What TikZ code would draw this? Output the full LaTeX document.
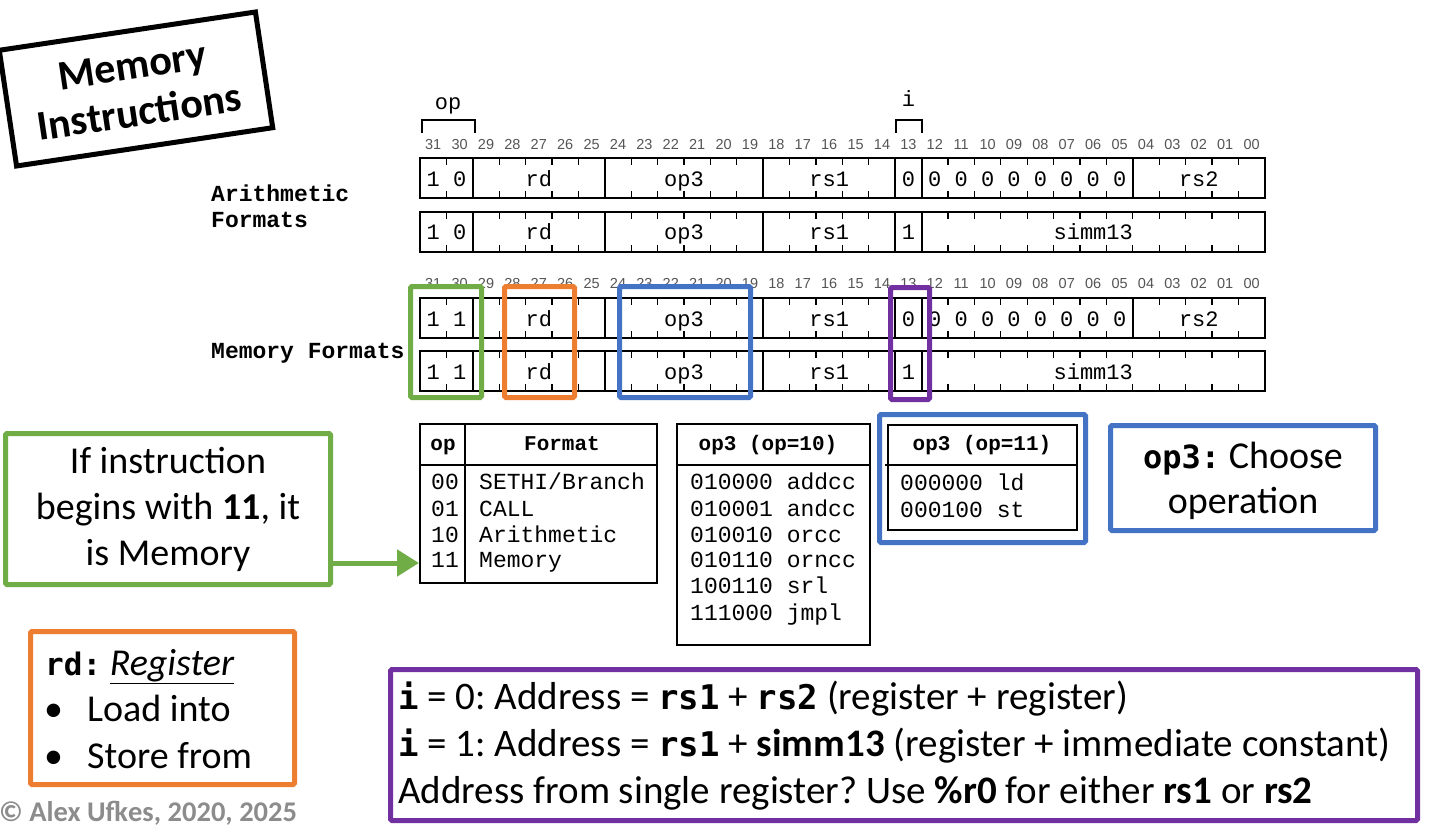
\documentclass[tikz,border=0pt]{standalone}
\usepackage{fontspec}
\setmainfont{Carlito}
\newfontfamily\cour{Liberation Mono}
\newfontfamily\cons{DejaVu Sans Mono}
\newfontfamily\helv{Liberation Sans}
\usetikzlibrary{arrows.meta}
\definecolor{cgreen}{HTML}{70AD47}
\definecolor{corange}{HTML}{ED7D31}
\definecolor{cblue}{HTML}{4472C4}
\definecolor{cpurple}{HTML}{7030A0}
\definecolor{numgray}{HTML}{555555}
\definecolor{copygray}{HTML}{8C8C8C}
\newcommand\fsz[2]{\fontsize{#1}{#2}\selectfont}
\newcommand\mbp[1]{{\cons\bfseries\fsz{34}{47}#1}}
\newcommand\mbo[1]{{\cons\bfseries\fsz{31}{46}#1}}
\frenchspacing
\tikzset{
  fieldtxt/.style={font=\cour\fsz{22}{26}, inner sep=0pt, anchor=base},
  bitnum/.style={font=\helv\fsz{14.5}{16}, text=numgray, inner sep=0pt, anchor=base},
  rowline/.style={line width=1.2pt},
  divline/.style={line width=2.2pt},
  tickline/.style={line width=1.3pt},
  lbl/.style={font=\cour\bfseries\fsz{23}{26}, inner sep=0pt, anchor=base west},
  thead/.style={font=\cour\bfseries\fsz{21}{24}, inner sep=0pt, anchor=base},
  tbody/.style={font=\cour\fsz{23}{26}, inner sep=0pt, anchor=base west},
  cbox/.style={draw=#1, line width=5pt, rounded corners=1.5pt},
  body/.style={font=\frenchspacing\fsz{38}{46}, inner sep=0pt, anchor=base west},
  pbody/.style={font=\frenchspacing\fsz{39}{47}, inner sep=0pt, anchor=base west},
}
\begin{document}
\begin{tikzpicture}[x=1pt,y=-1pt]
\useasboundingbox[fill=white] (0,0) rectangle (1452,832);

% ---------- title ----------
\node[draw, line width=5pt, rotate=8.5, minimum width=259pt, minimum height=117pt,
      align=center, font=\bfseries\fsz{42}{47}, inner sep=0pt] (title) at (136,89) {Memory\\Instructions};

% ---------- side labels ----------
\node[lbl] (arith1) at (211,201) {Arithmetic};
\node[lbl] (arith2) at (211,227) {Formats};
\node[lbl] (memfmt) at (211,358) {Memory Formats};

% ---------- op / i brackets ----------
\node[fieldtxt] (oplbl) at (448,110) {op};
\node[fieldtxt] (ilbl) at (908.5,107) {i};
\draw[line width=2.5pt] (422,133) -- (422,120) -- (475,120) -- (475,133);
\draw[line width=2.5pt] (896,133) -- (896,120) -- (922,120) -- (922,133);

% ---------- bit numbers ----------
\foreach \b in {0,...,31} {
  \node[bitnum] (na\b) at (420+31*26.4-\b*26.4+13.2,150) {\ifnum\b<10 0\fi\b};
  \node[bitnum] (nb\b) at (420+31*26.4-\b*26.4+13.2,288) {\ifnum\b<10 0\fi\b};
}

% ---------- rows ----------
\foreach \t in {158,212,298,351} {
  \draw[rowline] (420,\t) rectangle (1265,\t+40);
  \foreach \k in {1,...,31} {
    \draw[tickline] (420+\k*26.4,\t) -- ++(0,7);
    \draw[tickline] (420+\k*26.4,\t+40) -- ++(0,-7);
  }
  \foreach \k in {2,7,13,18,19} {
    \draw[divline] (420+\k*26.4,\t) -- ++(0,40);
  }
  \node[fieldtxt] (rd\t) at (538.8,\t+28) {rd};
  \node[fieldtxt] (opt\t) at (684,\t+28) {op3};
  \node[fieldtxt] (rsa\t) at (829.2,\t+28) {rs1};
  \node[fieldtxt] (ba\t) at (433.2,\t+28) {1};
}
\node[fieldtxt] (bb158) at (459.6,186) {0};
\node[fieldtxt] (bb212) at (459.6,240) {0};
\node[fieldtxt] (bb298) at (459.6,326) {1};
\node[fieldtxt] (bb351) at (459.6,379) {1};
\foreach \t in {158,298} {
  \draw[divline] (420+27*26.4,\t) -- ++(0,40);
  \node[fieldtxt] (iz\t) at (908.4,\t+28) {0};
  \foreach \k in {19,...,26} {
    \node[fieldtxt] (z\t-\k) at (420+\k*26.4+13.2,\t+28) {0};
  }
  \node[fieldtxt] (rsb\t) at (1198.8,\t+28) {rs2};
}
\foreach \t in {212,351} {
  \node[fieldtxt] (io\t) at (908.4,\t+28) {1};
  \node[fieldtxt] (sim\t) at (1093.2,\t+28) {simm13};
}

% ---------- table 1 ----------
\draw[rowline] (420,424) rectangle (657,583);
\draw[line width=2.5pt] (420,465) -- (657,465);
\draw[line width=2.5pt] (465,424) -- (465,583);
\node[thead] (h1a) at (443,450) {op};
\node[thead] (h1b) at (562,450) {Format};
\node[tbody] (t1a) at (431,489.5) {00};
\node[tbody] (t1b) at (431,516) {01};
\node[tbody] (t1c) at (431,542) {10};
\node[tbody] (t1d) at (431,567.5) {11};
\node[tbody] (t1e) at (479,489.5) {SETHI/Branch};
\node[tbody] (t1f) at (479,516) {CALL};
\node[tbody] (t1g) at (479,542) {Arithmetic};
\node[tbody] (t1h) at (479,567.5) {Memory};

% ---------- table 2 ----------
\draw[rowline] (677,424) rectangle (870,645);
\draw[line width=2.5pt] (677,465) -- (870,465);
\node[thead] (h2) at (768,450) {op3 (op=10)};
\node[tbody] (t2a) at (690,489.5) {010000 addcc};
\node[tbody] (t2b) at (690,516) {010001 andcc};
\node[tbody] (t2c) at (690,542) {010010 orcc};
\node[tbody] (t2d) at (690,567.5) {010110 orncc};
\node[tbody] (t2e) at (690,593.5) {100110 srl};
\node[tbody] (t2f) at (690,620) {111000 jmpl};

% ---------- table 3 ----------
\draw[rowline] (888,425) rectangle (1077,530);
\draw[line width=2.5pt] (885,465) -- (1077,465);
\node[thead] (h3) at (982,450) {op3 (op=11)};
\node[tbody] (t3a) at (900,490) {000000 ld};
\node[tbody] (t3b) at (900,517) {000100 st};

% ---------- highlight boxes ----------
\draw[cbox=cgreen] (410.5,286.5) rectangle (481.5,397.5);
\draw[cbox=corange] (504.5,286.5) rectangle (574.5,397.5);
\draw[cbox=cblue] (619.5,286.5) rectangle (750.5,397.5);
\draw[cbox=cpurple] (890.5,287.5) rectangle (929.5,399.5);
\draw[cbox=cblue] (879.5,414.5) rectangle (1085.5,542.5);

% ---------- green note + arrow ----------
\node[cbox=cgreen, minimum width=325pt, minimum height=151pt, inner sep=0pt,
      align=center, font=\fsz{38}{46}] (gbox) at (168,509)
      {If instruction\\begins with \textbf{11}, it\\is Memory};
\coordinate (atip) at (419,563);
\draw[line width=5pt, cgreen, -{Triangle[length=22pt,width=26pt]}] (gbox.east |- atip) -- (atip);

% ---------- blue note ----------
\node[cbox=cblue, minimum width=265pt, minimum height=105pt, inner sep=0pt] (bbox) at (1243,478) {};
\node[font=\fsz{38}{46}, inner sep=0pt, anchor=base] (bl1) at (1243,468) {{\cons\bfseries\fsz{32}{46}op3:} Choose};
\node[font=\fsz{38}{46}, inner sep=0pt, anchor=base] (bl2) at (1243,513) {operation};

% ---------- orange note ----------
\draw[cbox=corange] (30.5,631.5) rectangle (294.5,784.5);
\node[body] (o1) at (45,675) {\mbo{rd:} \textit{\underline{Register}}};
\node[body] (o2b) at (44,721) {•};
\node[body] (o2) at (87,721) {Load into};
\node[body] (o3b) at (44,768) {•};
\node[body] (o3) at (87,768) {Store from};

% ---------- copyright ----------
\node[anchor=base west, inner sep=0pt, font=\bfseries\fsz{28.5}{30}, text=copygray] (copy) at (-1,821) {© Alex Ufkes, 2020, 2025};

% ---------- purple note ----------
\draw[cbox=cpurple] (390.5,669.5) rectangle (1417.5,820.5);
\node[pbody] (p1) at (398,709) {\mbp{i} = 0: Address = \mbp{rs1} + \mbp{rs2} (register + register)};
\node[pbody] (p2) at (398,756) {\mbp{i} = 1: Address = \mbp{rs1} + \textbf{simm13} (register + immediate constant)};
\node[pbody] (p3) at (398,803) {Address from single register? Use \textbf{\%r0} for either \textbf{rs1} or \textbf{rs2}};
\end{tikzpicture}
\end{document}
